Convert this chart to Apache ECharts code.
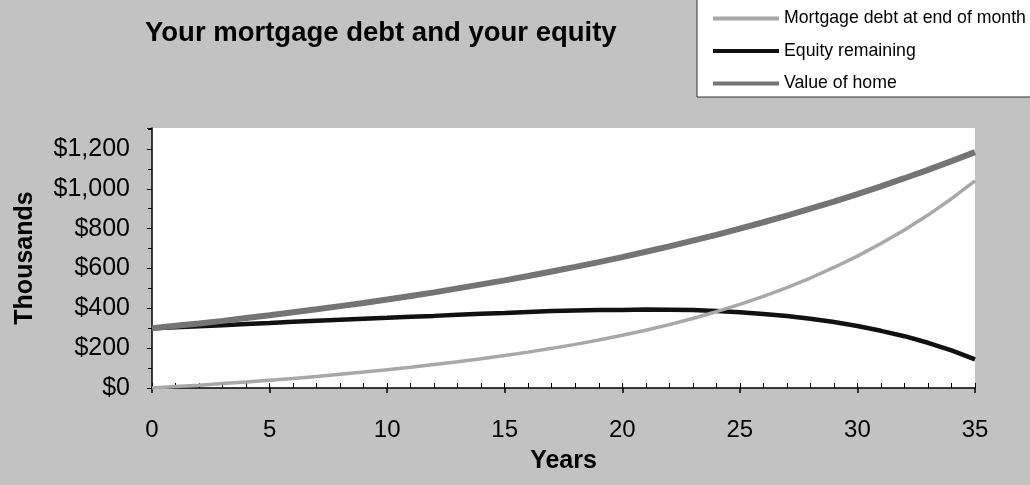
<!DOCTYPE html>
<html>
<head>
<meta charset="utf-8">
<script src="https://cdn.jsdelivr.net/npm/echarts@6/dist/echarts.min.js"></script>
<style>
html,body{margin:0;padding:0;background:#c2c2c2;}
#c{width:1030px;height:485px;}
</style>
</head>
<body>
<div id="c"></div>
<script>
const titleText = "Your mortgage debt and your equity";
const seriesNames = ["Mortgage debt at end of month", "Equity remaining", "Value of home"];
const years = [0,1,2,3,4,5,6,7,8,9,10,11,12,13,14,15,16,17,18,19,20,21,22,23,24,25,26,27,28,29,30,31,32,33,34,35];
const debt = [0,7,14,22,30,39,48,58,69,80,92,104,118,132,147,163,180,199,219,241,265,290,318,349,383,420,460,504,552,605,662,725,793,868,950,1040];
const equity = [300,305,310,315,321,326,332,337,342,347,352,358,362,368,373,377,382,386,389,391,392,394,393,391,386,380,372,361,348,331,311,287,260,227,189,144];
const home = [300,312,324,337,351,365,380,395,411,427,444,462,480,500,520,540,562,585,608,632,657,684,711,740,769,800,832,865,900,936,973,1012,1053,1095,1139,1184];
const xTicks = [0,5,10,15,20,25,30,35];
const yTicks = [0,200,400,600,800,1000,1200];

const pairs = arr => years.map((y,i)=>[y,arr[i]]);
const font = "'Liberation Sans', Arial, sans-serif";
const colors = ['#a8a8a8', '#111111', '#747474'];

const chart = echarts.init(document.getElementById('c'), null, {renderer:'canvas'});
chart.setOption({
  backgroundColor:'#c2c2c2',
  animation:false,
  title:{
    text:titleText, left:145, top:19, padding:0,
    textStyle:{fontFamily:font, fontSize:27.5, fontWeight:'bold', color:'#000'}
  },
  graphic:[{
    type:'rect', z:0,
    shape:{x:697, y:-2, width:350, height:99},
    style:{fill:'#fff', stroke:'#333', lineWidth:1}
  }],
  legend:{
    orient:'vertical', left:713, top:9.5, padding:0,
    itemWidth:66, itemHeight:4, itemGap:14.5,
    data:seriesNames.map((n,i)=>({name:n, icon:'rect', itemStyle:{color:colors[i]}})),
    textStyle:{fontFamily:font, fontSize:17.7, lineHeight:17, color:'#000'}
  },
  grid:{
    left:152, right:55, top:128, bottom:97,
    show:true, backgroundColor:'#ffffff', borderWidth:0
  },
  xAxis:[{
    type:'value', min:0, max:35, interval:5,
    name:'Years', nameLocation:'middle', nameGap:61,
    nameTextStyle:{fontFamily:font, fontSize:25, fontWeight:'bold', color:'#000'},
    axisLine:{show:true, lineStyle:{color:'#000', width:1.5}},
    axisTick:{show:true, inside:false, length:5, lineStyle:{color:'#000', width:1.5}},
    axisLabel:{margin:30, fontFamily:font, fontSize:24, color:'#000',
      customValues: xTicks},
    splitLine:{show:false}
  },{
    type:'value', min:0, max:35, interval:1, position:'bottom',
    axisLine:{show:false},
    axisTick:{show:true, inside:true, length:5, lineStyle:{color:'#000', width:1}},
    axisLabel:{show:false},
    splitLine:{show:false}
  }],
  yAxis:{
    type:'value', min:0, max:1305, interval:200,
    name:'Thousands', nameLocation:'middle', nameGap:114, nameRotate:90,
    nameTextStyle:{fontFamily:font, fontSize:25, fontWeight:'bold', color:'#000'},
    axisLine:{show:true, lineStyle:{color:'#000', width:1.5}},
    axisTick:{show:true, inside:false, length:5, lineStyle:{color:'#000', width:1}},
    minorTick:{show:true, splitNumber:2, length:4, lineStyle:{color:'#000', width:1}},
    axisLabel:{margin:22, fontFamily:font, fontSize:25, color:'#000', showMaxLabel:false,
      formatter: v => yTicks.indexOf(v) >= 0 ? '$' + v.toLocaleString('en-US') : ''},
    splitLine:{show:false}
  },
  series:[{
    name:seriesNames[1], type:'line', data:pairs(equity), symbol:'none',
    lineStyle:{color:colors[1], width:4.5}, itemStyle:{color:colors[1]}
  },{
    name:seriesNames[0], type:'line', data:pairs(debt), symbol:'none',
    lineStyle:{color:colors[0], width:3.5}, itemStyle:{color:colors[0]}
  },{
    name:seriesNames[2], type:'line', data:pairs(home), symbol:'none',
    lineStyle:{color:colors[2], width:6}, itemStyle:{color:colors[2]}
  }]
});
</script>
</body>
</html>
